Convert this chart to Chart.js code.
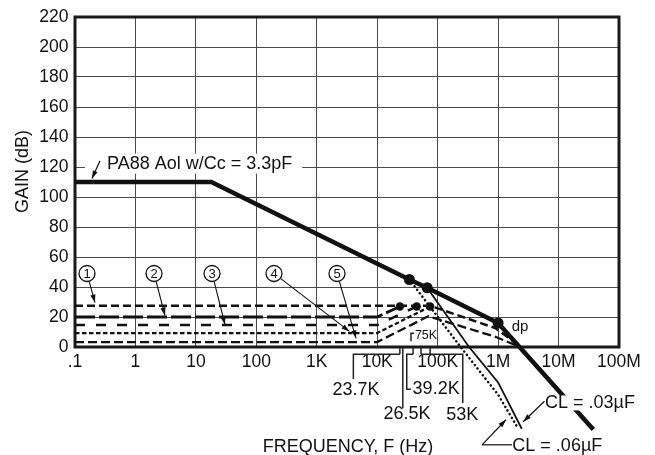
<!DOCTYPE html>
<html>
<head>
<meta charset="utf-8">
<script src="https://cdn.jsdelivr.net/npm/chart.js@4.4.1/dist/chart.umd.min.js"></script>
<style>
  html, body { margin: 0; padding: 0; background: #fff; }
  #wrap { width: 655px; height: 455px; }
</style>
</head>
<body>
<div id="wrap"><canvas id="myChart"></canvas></div>
<script>
const FONT = '"Liberation Sans", Arial, Helvetica, sans-serif';
const INK = '#111';

// axes
const xTickValues = [0.1, 1, 10, 100, 1e3, 1e4, 1e5, 1e6, 1e7, 1e8];
const xTickLabels = ['.1', '1', '10', '100', '1K', '10K', '100K', '1M', '10M', '100M'];

// PA88 open loop gain, Cc = 3.3pF
const aolFreq = [0.1, 18, 34e3, 67e3, 1e6, 37.6e6];
const aolGain = [110, 110, 45, 39.5, 16, -55];
const aolDotFreq = [34e3, 67e3, 1e6];
const aolDotGain = [45, 39.5, 16];

// with load capacitance
const cl03Freq = [67e3, 331e3, 1e6, 2.46e6];
const cl03Gain = [39.5, 0, -23.6, -54.5];
const cl06Freq = [34e3, 240e3, 1e6, 2.16e6];
const cl06Gain = [45, 0, -31.8, -54.5];
const clDotFreq = [1e6, 1e6];
const clDotGain = [-23.6, -31.8];

// closed loop curves 1..5
const loop1Freq = [0.1, 75e3, 0.9e6, 2.4e6];
const loop1Gain = [27.5, 27.5, 12.6, 0];
const loop2Freq = [0.1, 10e3, 23.7e3];
const loop2Gain = [20, 20, 27];
const loop3Freq = [0.1, 10e3, 45e3];
const loop3Gain = [14.6, 14.6, 27];
const loop4Freq = [0.1, 10e3, 75e3];
const loop4Gain = [9.3, 9.3, 27];
const loop5Freq = [0.1, 10e3, 70e3, 0.9e6, 2.3e6];
const loop5Gain = [3.3, 3.3, 20.5, 6.8, 0];
const loopDotFreq = [23.7e3, 45e3, 75e3];
const loopDotGain = [27, 27, 27];

// callouts (frequency, dB)
const circleText = ['1', '2', '3', '4', '5'];
const circleFreq = [0.158, 2.03, 18.5, 196, 2.16e3];
const circleGain = [49, 49, 49, 49, 49];
const circleTipFreq = [0.214, 3.08, 30.3, 3.47e3, 4.46e3];
const circleTipGain = [29.6, 21, 15, 10.4, 5.8];

const markFreq = [23.7e3, 26.5e3, 39.2e3, 53e3, 75e3];
const markText = ['23.7K', '26.5K', '39.2K', '53K', '75K'];

const pts = (fs, gs) => fs.map((f, i) => ({x: f, y: gs[i]}));

function curve(fs, gs, style) {
    return Object.assign({
        data: pts(fs, gs),
        showLine: true,
        pointRadius: 0,
        fill: false,
        clip: false,
        borderColor: INK,
        tension: 0,
        borderCapStyle: 'butt',
        borderJoinStyle: 'miter'
    }, style);
}

function dots(fs, gs, r) {
    return {
        data: pts(fs, gs),
        showLine: false,
        clip: false,
        pointRadius: r,
        pointBorderWidth: 0,
        pointBackgroundColor: INK
    };
}

function arrow(ctx, x1, y1, x2, y2) {
    ctx.beginPath();
    ctx.moveTo(x1, y1);
    ctx.lineTo(x2, y2);
    ctx.stroke();
    const a = Math.atan2(y2 - y1, x2 - x1);
    const len = 8, w = 2.6;
    ctx.beginPath();
    ctx.moveTo(x2, y2);
    ctx.lineTo(x2 - len * Math.cos(a) + w * Math.sin(a), y2 - len * Math.sin(a) - w * Math.cos(a));
    ctx.lineTo(x2 - len * Math.cos(a) - w * Math.sin(a), y2 - len * Math.sin(a) + w * Math.cos(a));
    ctx.closePath();
    ctx.fill();
}

function poly(ctx, list) {
    ctx.beginPath();
    list.forEach((p, i) => i ? ctx.lineTo(p[0], p[1]) : ctx.moveTo(p[0], p[1]));
    ctx.stroke();
}

function boxed(ctx, text, x, y, padL, padR, h) {
    const w = ctx.measureText(text).width;
    ctx.fillStyle = '#fff';
    ctx.fillRect(x - padL, y - h / 2, w + padL + padR, h);
    ctx.fillStyle = INK;
    ctx.fillText(text, x, y);
}

const annotations = {
    id: 'annotations',
    beforeDatasetsDraw(chart) {
        const {ctx, chartArea: a} = chart;
        ctx.save();
        ctx.strokeStyle = '#1a1a1a';
        ctx.lineWidth = 3;
        ctx.strokeRect(a.left, a.top, a.right - a.left, a.bottom - a.top);
        ctx.restore();
    },
    afterDatasetsDraw(chart) {
        const {ctx, chartArea: a} = chart;
        const X = f => chart.scales.x.getPixelForValue(f);
        const Y = g => chart.scales.y.getPixelForValue(g);
        ctx.save();
        ctx.fillStyle = INK;
        ctx.strokeStyle = INK;
        ctx.textBaseline = 'middle';

        // axis titles
        ctx.font = '18px ' + FONT;
        ctx.textAlign = 'center';
        ctx.fillText('FREQUENCY, F (Hz)', (a.left + a.right) / 2 + 1, 447);
        ctx.save();
        ctx.translate(23, Y(117));
        ctx.rotate(-Math.PI / 2);
        ctx.fillText('GAIN (dB)', 0, 0);
        ctx.restore();

        // open loop label
        ctx.textAlign = 'left';
        ctx.lineWidth = 1.2;
        boxed(ctx, 'PA88 Aol w/Cc = 3.3pF', X(0.338), Y(122.2), 22, 10, 20);
        arrow(ctx, X(0.259), Y(124.2), X(0.191), Y(112.3));

        // circled numbers
        ctx.font = '13px ' + FONT;
        ctx.textAlign = 'center';
        circleText.forEach((t, i) => {
            const cx = X(circleFreq[i]), cy = Y(circleGain[i]);
            const tx = X(circleTipFreq[i]), ty = Y(circleTipGain[i]);
            ctx.lineWidth = 1.3;
            ctx.fillStyle = '#fff';
            ctx.beginPath();
            ctx.arc(cx, cy, 8, 0, Math.PI * 2);
            ctx.fill();
            ctx.stroke();
            ctx.fillStyle = INK;
            ctx.fillText(t, cx, cy + 0.5);
            const ang = Math.atan2(ty - cy, tx - cx);
            ctx.lineWidth = 1.1;
            arrow(ctx, cx + 8.5 * Math.cos(ang), cy + 8.5 * Math.sin(ang), tx, ty);
        });

        // frequency marks under the axis
        ctx.lineWidth = 1.5;
        ctx.strokeStyle = '#222';
        markFreq.forEach(f => poly(ctx, [[X(f), Y(0)], [X(f), Y(-4.8)]]));
        poly(ctx, [[X(23.7e3), Y(-4.8)], [X(4.03e3), Y(-4.8)], [X(4.03e3), Y(-21.4)]]);
        poly(ctx, [[X(26.5e3), Y(-4.8)], [X(26.5e3), Y(-41)]]);
        poly(ctx, [[X(39.2e3), Y(-4.8)], [X(30.8e3), Y(-4.8)], [X(30.8e3), Y(-28.2)], [X(36e3), Y(-28.2)]]);
        poly(ctx, [[X(53e3), Y(-4.8)], [X(260e3), Y(-4.8)], [X(260e3), Y(-37.3)]]);
        poly(ctx, [[X(36.2e3), Y(3.8)], [X(36.2e3), Y(9.1)], [X(40.5e3), Y(9.1)]]);

        ctx.fillStyle = INK;
        ctx.font = '18px ' + FONT;
        ctx.textAlign = 'center';
        ctx.fillText(markText[0], X(4.46e3), Y(-29));
        ctx.fillText(markText[1], X(31.1e3), Y(-45));
        ctx.fillText(markText[3], X(255e3), Y(-45.5));
        ctx.textAlign = 'left';
        ctx.fillText(markText[2], X(38.5e3), Y(-28));
        ctx.font = '12.5px ' + FONT;
        ctx.textAlign = 'center';
        ctx.fillText(markText[4], X(64.2e3), Y(7.8));

        ctx.font = '15px ' + FONT;
        ctx.fillText('dp', X(2.3e6), Y(13.1));

        // load capacitance labels
        ctx.strokeStyle = INK;
        ctx.lineWidth = 1.2;
        ctx.font = '18px ' + FONT;
        ctx.textAlign = 'left';
        boxed(ctx, 'CL = .03µF', X(5.97e6), Y(-37.3), 2, 2, 15);
        arrow(ctx, X(5.85e6), Y(-36.2), X(2.6e6), Y(-49.8));
        boxed(ctx, 'CL = .06µF', X(1.72e6), Y(-66.3), 2, 2, 15);
        poly(ctx, [[X(1.7e6), Y(-65.2)], [X(542e3), Y(-65.2)]]);
        arrow(ctx, X(542e3), Y(-65.2), X(1.35e6), Y(-48.5));
        ctx.restore();
    }
};

new Chart(document.getElementById('myChart'), {
    type: 'scatter',
    data: {
        datasets: [
            dots(aolDotFreq, aolDotGain, 5.5),
            dots(clDotFreq, clDotGain, 4),
            dots(loopDotFreq, loopDotGain, 4.2),
            curve(aolFreq, aolGain, {borderWidth: 4.6}),
            curve(cl03Freq, cl03Gain, {borderWidth: 1.8}),
            curve(cl06Freq, cl06Gain, {borderWidth: 2.6, borderDash: [0.01, 4.3], borderCapStyle: 'round'}),
            curve(loop1Freq, loop1Gain, {borderWidth: 2.5, borderDash: [8, 4]}),
            curve(loop2Freq, loop2Gain, {borderWidth: 2.8, borderDash: [20, 4]}),
            curve(loop3Freq, loop3Gain, {borderWidth: 2.5, borderDash: [10, 11]}),
            curve(loop4Freq, loop4Gain, {borderWidth: 2.3, borderDash: [4.5, 2.5]}),
            curve(loop5Freq, loop5Gain, {borderWidth: 2.3, borderDash: [9, 4]})
        ]
    },
    options: {
        responsive: true,
        maintainAspectRatio: false,
        animation: false,
        events: [],
        layout: {padding: {top: 15, right: 36, bottom: 0, left: 0}},
        plugins: {legend: {display: false}, tooltip: {enabled: false}},
        scales: {
            x: {
                type: 'logarithmic',
                min: 0.1,
                max: 1e8,
                afterBuildTicks: s => { s.ticks = xTickValues.map(v => ({value: v})); },
                afterFit: s => { s.height = 108; },
                border: {display: false},
                grid: {color: '#4a4a4a', lineWidth: 1, drawTicks: false},
                ticks: {
                    autoSkip: false,
                    maxRotation: 0,
                    padding: 5,
                    color: INK,
                    font: {family: FONT, size: 17.5},
                    callback: (v, i) => xTickLabels[i]
                }
            },
            y: {
                min: 0,
                max: 220,
                afterFit: s => { s.width = 75; },
                border: {display: false},
                grid: {color: '#4a4a4a', lineWidth: 1, drawTicks: false},
                ticks: {
                    stepSize: 20,
                    padding: 6.5,
                    color: INK,
                    font: {family: FONT, size: 17.5}
                }
            }
        }
    },
    plugins: [annotations]
});
</script>
</body>
</html>
